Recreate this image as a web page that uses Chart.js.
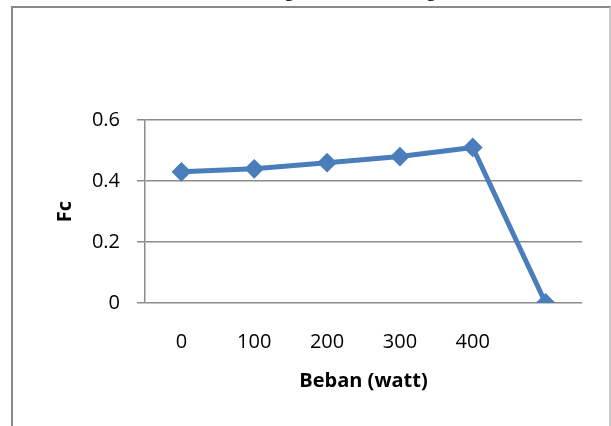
<!DOCTYPE html>
<html>
<head>
<meta charset="utf-8">
<script src="https://cdn.jsdelivr.net/npm/chart.js@4"></script>
<style>
  html, body { margin: 0; padding: 0; background: #fff; overflow: hidden; }
  #wrap { position: relative; width: 611px; height: 426px; }
  #frame {
    position: absolute; left: 11px; top: 6px; width: 596px; height: 440px;
    border-top: 2px solid #8a8a8a; border-left: 2px solid #8a8a8a; border-right: 2px solid #c8c8c8;
  }
  .cut { position: absolute; top: -22px; font: 20px "Liberation Serif", serif; color: #000; }
  canvas { position: absolute; left: 0; top: 0; }
</style>
</head>
<body>
<div id="wrap">
  <span class="cut" style="left:284px">g</span>
  <span class="cut" style="left:426px">g</span>
  <div id="frame"></div>
  <canvas id="fcChart" width="611" height="426"></canvas>
</div>
<script>
const labels = ['0', '100', '200', '300', '400', ''];
const fcValues = [0.43, 0.44, 0.46, 0.48, 0.51, 0];
const yTicks = [0, 0.2, 0.4, 0.6];

const blue = '#4a7ebb';
const gray = '#8c8c8c';
const font = { family: '"Open Sans", sans-serif', size: 20 };

new Chart(document.getElementById('fcChart'), {
  type: 'line',
  data: {
    labels: labels,
    datasets: [{
      data: fcValues,
      borderColor: blue,
      backgroundColor: blue,
      borderWidth: 5,
      pointStyle: 'rectRot',
      pointRadius: 8.5,
      pointBorderWidth: 2,
      tension: 0
    }]
  },
  options: {
    responsive: false,
    animation: false,
    layout: { padding: { left: 0, top: 120, right: 29, bottom: 0 } },
    plugins: { legend: { display: false }, tooltip: { enabled: false } },
    scales: {
      x: {
        offset: true,
        grid: { display: false, drawTicks: false },
        border: { display: false },
        ticks: { color: '#000', font: font, padding: 27, maxRotation: 0, autoSkip: false },
        title: { display: true, text: 'Beban (watt)', color: '#000',
                 font: { ...font, weight: 'bold' }, padding: { top: 0, bottom: 33 } },
        afterFit: s => { s.height = 123; }
      },
      y: {
        min: 0, max: 0.6,
        afterBuildTicks: s => { s.ticks = yTicks.map(v => ({ value: v })); },
        grid: { color: gray, lineWidth: 1.5, tickLength: 8, tickColor: gray },
        border: { color: gray, width: 1.5 },
        ticks: { color: '#000', font: font, padding: 17, callback: v => String(v) },
        title: { display: true, text: 'Fc', color: '#000',
                 font: { ...font, weight: 'bold' }, padding: { top: 53, bottom: 0 } },
        afterFit: s => { s.width = 145; }
      }
    }
  }
});
</script>
</body>
</html>
